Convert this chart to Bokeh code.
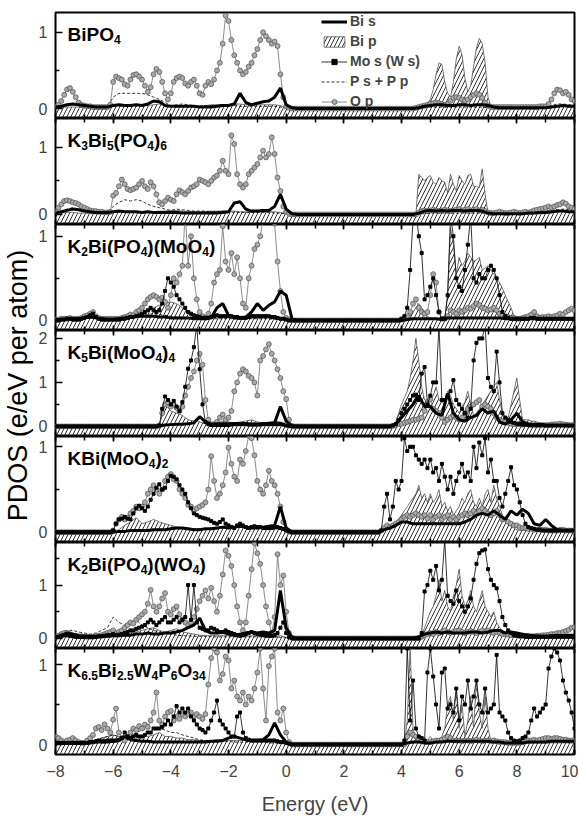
import numpy as np
from math import pi
from bokeh.plotting import figure
from bokeh.models import (Range1d, LinearAxis, FixedTicker, SingleIntervalTicker, Label,
                          Legend, LegendItem, BoxAnnotation, ColumnDataSource)
from bokeh.layouts import column, row
from bokeh.embed import file_html
from bokeh.resources import INLINE

FONT = "Liberation Sans"

# energy grids (eV)
E01 = np.round(np.arange(-8.0, 10.0001, 0.1), 1)   # 181 points
E02 = np.round(np.arange(-8.0, 10.0001, 0.2), 1)   # 91 points
GAP01 = [0, 0, 0, 0, 0, 0, 0, 0, 0, 0, 0, 0, 0, 0, 0, 0, 0, 0, 0, 0, 0, 0, 0, 0, 0, 0]

# ---------------- Panel 1 : BiPO4 ----------------
p1_op_vb = [0.03,0.05,0.10,0.18,0.25,0.27,0.22,0.15,0.08,0.05,
0.04,0.03,0.03,0.02,0.02,0.02,0.02,0.02,0.02,0.05,
0.35,0.42,0.40,0.38,0.32,0.30,0.38,0.44,0.45,0.42,
0.38,0.30,0.22,0.28,0.45,0.52,0.48,0.35,0.20,0.12,
0.20,0.35,0.40,0.42,0.40,0.33,0.30,0.35,0.38,0.30,
0.20,0.18,0.30,0.35,0.32,0.38,0.50,0.60,0.85,1.22,
1.15,0.90,0.70,0.60,0.50,0.45,0.48,0.55,0.60,0.70,
0.78,0.90,1.00,0.95,0.90,0.85,0.88,0.82,0.45,0.15,
0.03,0.01,0,0]
p1_op_cb = [0,0,0,0,0,0,0,0,0,0,
0,0,0,0,0,0.01,0.02,0.03,0.04,0.05,
0.06,0.07,0.08,0.07,0.06,0.05,0.06,0.10,0.14,0.15,
0.14,0.12,0.10,0.12,0.15,0.18,0.20,0.18,0.14,0.08,
0.04,0.02,0.02,0.02,0.02,0.02,0.02,0.02,0.02,0.02,
0.02,0.02,0.02,0.02,0.02,0.02,0.02,0.02,0.03,0.03,
0.03,0.06,0.12,0.20,0.25,0.24,0.20,0.22,0.18,0.12,
0.10]
p1_bis_vb = [0.02,0.03,0.05,0.06,0.05,
0.04,0.03,0.02,0.02,0.02,
0.04,0.05,0.04,0.04,0.05,
0.04,0.06,0.10,0.09,0.04,
0.03,0.03,0.03,0.03,0.03,
0.02,0.02,0.02,0.03,0.04,
0.04,0.06,0.20,0.08,0.05,
0.07,0.09,0.10,0.15,0.27,
0.05,0.01,0]
p1_bis_cb = [0,0,0,0,0,
0,0,0,0.01,0.03,
0.04,0.05,0.05,0.04,0.04,
0.05,0.05,0.04,0.05,0.05,
0.04,0.02,0.01,0.01,0.01,
0.01,0.01,0.01,0.01,0.01,
0.01,0.02,0.03,0.04,0.03,
0.03]
p1_bip_vb = [0.01,0.02,0.02,0.02,0.02,
0.01,0.01,0.01,0.01,0.01,
0.03,0.04,0.03,0.03,0.04,
0.05,0.04,0.05,0.06,0.04,
0.03,0.03,0.04,0.04,0.03,
0.03,0.04,0.05,0.05,0.05,
0.05,0.06,0.06,0.05,0.05,
0.05,0.05,0.05,0.05,0.04,
0.01,0,0]
p1_bip_cb = [0,0,0,0,0,0,0,0,0,0,
0,0,0,0,0,0,0.01,0.02,0.04,0.07,
0.12,0.25,0.45,0.60,0.58,0.35,0.20,0.15,0.35,0.65,
0.82,0.70,0.40,0.22,0.30,0.55,0.80,0.92,0.85,0.60,
0.15,0.03,0.02,0.01,0.01,0.01,0.01,0.01,0.01,0.01,
0.01,0.01,0.01,0.01,0.01,0.01,0.01,0.01,0.01,0.01,
0.01,0.01,0.02,0.03,0.04,0.04,0.03,0.03,0.03,0.03,
0.02]
p1_p_vb = [0.01,0.02,0.04,0.06,0.05,
0.03,0.02,0.01,0.01,0.01,
0.15,0.20,0.20,0.20,0.20,
0.20,0.18,0.15,0.12,0.08,
0.04,0.05,0.06,0.05,0.04,
0.03,0.04,0.04,0.04,0.05,
0.04,0.04,0.03,0.03,0.03,
0.03,0.03,0.03,0.03,0.02,
0.01,0,0]
p1_p_cb = [0,0,0,0,0,
0,0,0,0,0.01,
0.02,0.02,0.02,0.02,0.02,
0.02,0.02,0.02,0.02,0.02,
0.01,0.01,0.01,0.01,0.01,
0.01,0.01,0.01,0.01,0.01,
0.02,0.04,0.06,0.06,0.05,
0.05]

# ---------------- Panel 2 : K3Bi5(PO4)6 ----------------
p2_op_vb = [0.05,0.10,0.15,0.20,0.21,0.20,0.18,0.17,0.15,0.12,
0.10,0.08,0.06,0.05,0.05,0.04,0.04,0.03,0.03,0.04,
0.28,0.32,0.42,0.52,0.45,0.38,0.36,0.38,0.40,0.45,
0.50,0.42,0.38,0.48,0.42,0.30,0.18,0.15,0.20,0.25,
0.22,0.20,0.30,0.36,0.33,0.30,0.35,0.40,0.42,0.45,
0.52,0.50,0.48,0.45,0.50,0.55,0.58,0.65,0.80,0.65,
0.60,1.18,1.05,0.60,0.45,0.40,0.45,0.60,0.65,0.70,
0.75,0.85,0.95,0.85,0.90,1.15,0.90,0.55,0.35,0.12,
0.04,0.01,0,0]
p2_op_cb = [0,0,0,0,0,0,0,0,0,0,
0,0,0,0,0,0,0.03,0.05,0.06,0.05,
0.06,0.07,0.06,0.05,0.06,0.07,0.06,0.05,0.06,0.07,
0.08,0.06,0.07,0.08,0.06,0.07,0.08,0.06,0.07,0.05,
0.03,0.02,0.02,0.03,0.04,0.03,0.02,0.02,0.03,0.04,
0.03,0.02,0.03,0.04,0.03,0.04,0.06,0.07,0.08,0.09,
0.10,0.12,0.10,0.12,0.14,0.15,0.18,0.16,0.12,0.10,
0.08]
p2_bis_vb = [0.02,0.04,0.06,0.08,0.07,
0.05,0.04,0.03,0.03,0.03,
0.04,0.05,0.04,0.04,0.04,
0.03,0.04,0.03,0.03,0.03,
0.03,0.03,0.02,0.02,0.02,
0.02,0.02,0.02,0.02,0.03,
0.04,0.17,0.19,0.08,0.05,
0.05,0.06,0.06,0.12,0.30,
0.08,0.01,0]
p2_bis_cb = [0,0,0,0,0,
0,0,0,0.02,0.05,
0.06,0.05,0.06,0.05,0.06,
0.06,0.05,0.06,0.06,0.05,
0.02,0.01,0.01,0.01,0.01,
0.01,0.01,0.02,0.02,0.03,
0.03,0.04,0.05,0.05,0.04,
0.04]
p2_bip_vb = [0.01,0.02,0.03,0.03,0.02,
0.02,0.01,0.01,0.01,0.01,
0.03,0.04,0.04,0.03,0.04,
0.04,0.04,0.04,0.05,0.05,
0.06,0.06,0.05,0.04,0.04,
0.04,0.04,0.05,0.05,0.05,
0.05,0.05,0.04,0.04,0.04,
0.04,0.04,0.04,0.04,0.03,
0.01,0,0]
p2_bip_cb = [0,0,0,0,0,0,0,0,0,0,
0,0,0,0,0,0,0.60,0.55,0.50,0.55,
0.58,0.48,0.45,0.55,0.50,0.48,0.32,0.60,0.45,0.35,
0.58,0.50,0.45,0.58,0.60,0.42,0.42,0.40,0.68,0.30,
0.02,0.01,0.01,0.01,0.01,0.01,0.01,0.01,0.01,0.01,
0.01,0.01,0.01,0.01,0.01,0.01,0.01,0.01,0.01,0.01,
0.01,0.02,0.02,0.03,0.03,0.04,0.05,0.05,0.04,0.04,
0.03]
p2_p_vb = [0.02,0.05,0.08,0.10,0.08,
0.06,0.04,0.03,0.02,0.02,
0.12,0.18,0.22,0.20,0.22,
0.20,0.15,0.12,0.10,0.08,
0.06,0.08,0.07,0.06,0.05,
0.05,0.05,0.04,0.04,0.05,
0.04,0.03,0.03,0.03,0.03,
0.03,0.03,0.03,0.02,0.02,
0.01,0,0]
p2_p_cb = [0,0,0,0,0,
0,0,0,0.01,0.01,
0.02,0.02,0.02,0.02,0.02,
0.02,0.02,0.02,0.02,0.02,
0.01,0.01,0.01,0.01,0.01,
0.02,0.02,0.03,0.03,0.04,
0.05,0.06,0.07,0.08,0.07,
0.06]

# ---------------- Panel 3 : K2Bi(PO4)(MoO4) ----------------
p3_op_vb = [0.01,0.01,0.02,0.02,0.02,0.03,0.02,0.02,0.02,0.03,
0.05,0.06,0.08,0.10,0.05,0.03,0.02,0.02,0.02,0.02,
0.02,0.02,0.02,0.03,0.04,0.05,0.07,0.06,0.10,0.12,
0.15,0.20,0.25,0.28,0.30,0.28,0.25,0.27,0.22,0.15,
0.30,0.50,0.45,0.55,0.65,1.30,0.65,1.00,0.50,0.25,
0.10,0.05,0.03,0.08,0.20,0.45,0.55,0.60,1.12,0.70,
0.60,0.80,0.55,0.75,0.50,0.20,0.15,0.50,0.65,0.85,
0.90,1.00,1.20,1.25,1.20,1.20,1.15,0.70,0.35,0.10,
0.03,0.01,0,0]
p3_op_cb = [0,0,0,0,0,0,0,0,0,0,
0.01,0.02,0.05,0.10,0.20,0.25,0.15,0.10,0.08,0.10,
0.30,0.55,0.45,0.10,0.02,0.02,0.05,0.12,0.10,0.08,
0.12,0.10,0.12,0.15,0.14,0.17,0.20,0.18,0.15,0.14,
0.12,0.13,0.15,0.12,0.08,0.06,0.05,0.04,0.03,0.03,
0.02,0.02,0.03,0.04,0.05,0.07,0.10,0.05,0.03,0.04,
0.04,0.05,0.04,0.05,0.06,0.08,0.07,0.10,0.12,0.14,
0.12]
p3_mos_vb = [0,0,0.01,0.01,0.02,0.02,0.01,0.01,0.01,0.02,
0.03,0.04,0.06,0.08,0.04,0.02,0.01,0.01,0.01,0.01,
0.01,0.01,0.01,0.02,0.02,0.03,0.04,0.04,0.05,0.06,
0.08,0.10,0.12,0.15,0.12,0.10,0.12,0.20,0.35,0.50,
0.45,0.40,0.30,0.25,0.20,0.15,0.10,0.08,0.06,0.05,
0.04,0.03,0.03,0.03,0.04,0.05,0.06,0.05,0.05,0.05,
0.05,0.05,0.04,0.04,0.03,0.03,0.03,0.04,0.05,0.05,
0.05,0.05,0.05,0.05,0.05,0.04,0.04,0.03,0.02,0.02,
0.01,0,0,0]
p3_mos_cb = [0,0,0,0,0,0,0,0,0,0,
0.02,0.05,0.15,0.60,1.20,1.30,1.00,0.80,0.25,0.30,
0.40,0.50,0.30,0.10,0.02,0.02,0.30,1.25,1.00,0.50,
0.40,0.35,0.60,0.90,1.25,0.50,0.45,0.55,0.50,0.50,
0.60,0.65,0.60,0.50,0.30,0.10,0.05,0.03,0.02,0.02,
0.02,0.02,0.02,0.02,0.02,0.03,0.03,0.02,0.02,0.02,
0.02,0.02,0.02,0.02,0.02,0.02,0.02,0.02,0.02,0.02,
0.02]
p3_bis_vb = [0.01,0.01,0.02,0.02,0.02,
0.03,0.04,0.03,0.02,0.01,
0.01,0.02,0.03,0.04,0.05,
0.05,0.05,0.05,0.04,0.04,
0.03,0.03,0.03,0.03,0.02,
0.02,0.02,0.03,0.15,0.20,
0.06,0.03,0.03,0.04,0.10,
0.20,0.12,0.18,0.22,0.35,
0.30,0.02,0]
p3_bis_cb = [0,0,0,0,0,
0,0.01,0.02,0.02,0.02,
0.02,0.02,0.01,0.03,0.03,
0.03,0.03,0.03,0.03,0.03,
0.03,0.03,0.03,0.02,0.02,
0.02,0.02,0.02,0.02,0.02,
0.02,0.02,0.02,0.02,0.02,
0.02]
p3_bip_vb = [0.01,0.01,0.02,0.02,0.02,
0.03,0.04,0.03,0.02,0.01,
0.01,0.02,0.03,0.04,0.06,
0.08,0.12,0.15,0.18,0.20,
0.22,0.20,0.15,0.10,0.06,
0.04,0.03,0.03,0.04,0.04,
0.04,0.04,0.03,0.03,0.03,
0.03,0.03,0.03,0.03,0.02,
0.01,0,0]
p3_bip_cb = [0,0,0,0,0,0,0,0,0,0,
0,0,0.02,0.05,0.10,0.15,0.20,0.15,0.10,0.05,
0.03,0.02,0.02,0.02,0.02,0.02,0.30,1.10,0.90,0.55,
0.75,0.65,0.70,0.80,0.75,0.70,0.72,0.75,0.60,0.62,
0.65,0.60,0.55,0.50,0.45,0.38,0.30,0.22,0.15,0.05,
0.03,0.02,0.02,0.02,0.02,0.02,0.02,0.02,0.02,0.02,
0.02,0.02,0.02,0.02,0.02,0.02,0.02,0.02,0.02,0.02,
0.02]
p3_p_vb = [0.01,0.01,0.02,0.03,0.03,
0.04,0.05,0.03,0.02,0.01,
0.02,0.02,0.03,0.04,0.05,
0.06,0.07,0.08,0.07,0.06,
0.05,0.04,0.04,0.03,0.03,
0.02,0.02,0.02,0.02,0.02,
0.02,0.02,0.02,0.02,0.02,
0.02,0.02,0.02,0.01,0.01,
0,0,0]

# ---------------- Panel 4 : K5Bi(MoO4)4 ----------------
p4_op_vb = [0,0,0,0,0,0,0,0,0,0,
0,0,0,0,0,0,0,0,0,0,
0,0,0,0,0,0,0,0,0,0,
0,0,0,0,0,0,0.02,0.30,0.50,0.55,
0.45,0.50,0.42,0.35,0.45,0.70,0.90,1.10,1.25,1.50,
1.65,1.40,0.60,0.15,0.05,0.05,0.10,0.20,0.27,0.15,
0.20,0.35,0.80,1.00,1.20,1.30,1.25,1.15,1.10,1.00,
0.70,1.50,1.60,1.75,1.87,1.65,1.50,1.30,1.10,0.80,
0.62,0.15,0.01,0]
p4_op_cb = [0,0,0,0,0,0,0,0.01,0.03,0.05,
0.06,0.08,0.10,0.12,0.15,0.15,0.18,0.20,0.35,0.50,
0.62,0.40,0.35,0.30,0.20,0.10,0.15,0.20,0.25,0.20,
0.15,0.20,0.30,0.40,0.45,0.50,0.55,0.60,0.45,0.50,
0.45,0.40,0.30,0.20,0.15,0.12,0.10,0.08,0.06,0.05,
0.05,0.05,0.04,0.05,0.04,0.03,0.03,0.03,0.03,0.03,
0.03,0.03,0.04,0.05,0.05,0.06,0.05,0.04,0.03,0.03,
0.02]
p4_mos_vb = [0,0,0,0,0,0,0,0,0,0,
0,0,0,0,0,0,0,0,0,0,
0,0,0,0,0,0,0,0,0,0,
0,0,0,0,0,0,0.02,0.40,0.68,0.60,
0.50,0.58,0.45,0.35,0.55,0.90,1.31,1.50,1.80,2.30,
1.30,0.50,0.10,0.05,0.03,0.03,0.03,0.03,0.03,0.03,
0.03,0.04,0.05,0.05,0.05,0.05,0.05,0.04,0.04,0.04,
0.04,0.04,0.05,0.05,0.05,0.05,0.05,0.05,0.05,0.04,
0.02,0.01,0,0]
p4_mos_cb = [0,0,0,0,0,0,0,0.02,0.05,0.15,
0.30,0.40,0.50,0.60,0.70,0.72,0.60,1.20,1.35,0.50,
0.70,1.00,1.00,2.30,0.60,0.60,0.70,0.80,1.05,0.60,
0.50,0.40,0.30,0.20,0.40,1.50,1.90,2.00,2.00,2.30,
1.10,0.90,0.80,1.70,1.00,0.30,0.20,0.15,0.10,0.08,
0.06,0.05,0.04,0.04,0.03,0.03,0.03,0.03,0.03,0.03,
0.02,0.02,0.02,0.02,0.02,0.02,0.02,0.02,0.02,0.02,
0.02]
p4_bis_vb = [0,0,0,0,0,
0,0,0,0,0,
0,0,0,0,0,
0,0,0,0.01,0.03,
0.04,0.05,0.05,0.06,0.08,
0.22,0.10,0.05,0.06,0.06,
0.06,0.06,0.05,0.06,0.05,
0.05,0.05,0.06,0.08,0.45,
0.12,0.01,0]
p4_bis_cb = [0,0,0,0,0.05,
0.20,0.35,0.50,0.70,0.45,
0.45,0.30,0.25,0.75,0.30,
0.15,0.12,0.20,0.25,0.40,
0.30,0.35,0.10,0.05,0.15,
0.30,0.10,0.05,0.04,0.03,
0.02,0.02,0.02,0.02,0.02,
0.02]
p4_bip_vb = [0,0,0,0,0,
0,0,0,0,0,
0,0,0,0,0,
0,0,0,0.02,0.50,
0.35,0.30,0.25,0.15,0.12,
0.10,0.06,0.05,0.08,0.12,
0.10,0.08,0.10,0.12,0.15,
0.10,0.08,0.10,0.12,0.10,
0.03,0,0]
p4_bip_cb = [0,0,0,0,0,0,0,0.02,0.10,0.30,
0.50,0.65,0.80,1.10,1.50,2.00,1.50,0.90,0.60,0.60,
0.60,0.70,0.90,0.60,0.55,0.50,0.80,0.70,0.50,0.40,
0.30,0.45,0.55,0.80,0.50,0.25,0.30,0.40,0.50,0.60,
0.70,0.80,0.90,1.00,0.60,0.30,0.20,0.20,0.50,0.80,
1.10,0.60,0.15,0.15,0.15,0.12,0.12,0.10,0.08,0.06,
0.05,0.04,0.04,0.03,0.03,0.03,0.02,0.02,0.02,0.02,
0.02]

# ---------------- Panel 5 : KBi(MoO4)2 ----------------
p5_op_vb = [0,0,0,0,0,0,0,0,0,0,
0,0,0,0,0,0,0,0,0,0,
0.02,0.10,0.15,0.18,0.15,0.17,0.22,0.25,0.30,0.28,
0.30,0.35,0.45,0.50,0.55,0.50,0.45,0.50,0.60,0.65,
0.68,0.62,0.60,0.50,0.45,0.40,0.32,0.30,0.25,0.28,
0.30,0.32,0.35,0.50,0.89,0.60,0.40,0.45,0.55,0.70,
0.99,0.80,0.65,0.60,0.85,0.80,0.95,1.13,1.10,0.90,
0.60,0.50,0.45,0.55,0.72,0.60,0.55,0.45,0.30,0.12,
0.03,0.01,0,0]
p5_op_cb = [0,0,0,0.02,0.05,0.08,0.06,0.08,0.10,0.12,
0.15,0.18,0.20,0.18,0.20,0.22,0.20,0.18,0.20,0.16,
0.20,0.15,0.18,0.20,0.15,0.18,0.20,0.15,0.18,0.15,
0.18,0.20,0.22,0.20,0.22,0.25,0.22,0.25,0.28,0.25,
0.22,0.20,0.22,0.25,0.20,0.15,0.15,0.12,0.10,0.08,
0.08,0.06,0.05,0.05,0.04,0.04,0.03,0.03,0.03,0.03,
0.03,0.02,0.02,0.02,0.02,0.03,0.03,0.02,0.02,0.02,
0.02]
p5_mos_vb = [0,0,0,0,0,0,0,0,0,0,
0,0,0,0,0,0,0,0,0,0,
0.02,0.10,0.15,0.16,0.18,0.16,0.15,0.22,0.28,0.31,
0.28,0.25,0.30,0.38,0.45,0.52,0.56,0.50,0.52,0.60,
0.66,0.65,0.62,0.55,0.50,0.45,0.35,0.28,0.22,0.20,
0.18,0.17,0.16,0.15,0.13,0.11,0.10,0.12,0.15,0.10,
0.08,0.06,0.05,0.08,0.10,0.08,0.06,0.05,0.06,0.07,
0.06,0.06,0.05,0.05,0.05,0.05,0.06,0.06,0.05,0.04,
0.02,0.01,0,0]
p5_mos_cb = [0,0,0,0.02,0.30,0.45,0.15,0.30,0.60,0.50,
0.60,1.10,0.95,1.00,1.00,0.90,0.85,0.80,0.85,0.75,
0.85,0.70,0.75,0.60,0.80,0.65,0.50,0.65,0.45,0.60,
0.70,0.80,0.65,0.70,0.60,1.00,0.75,1.05,0.90,1.10,
0.70,0.85,0.60,0.60,0.40,0.30,0.45,0.60,0.76,0.55,
0.50,0.35,0.20,0.10,0.06,0.05,0.04,0.03,0.03,0.02,
0.02,0.02,0.02,0.02,0.02,0.02,0.02,0.02,0.02,0.02,
0.02]
p5_bis_vb = [0,0,0,0,0,
0,0,0,0,0,
0,0.01,0.01,0.02,0.02,
0.02,0.02,0.03,0.03,0.03,
0.04,0.05,0.05,0.04,0.03,
0.03,0.04,0.04,0.05,0.06,
0.05,0.06,0.07,0.06,0.05,
0.05,0.06,0.07,0.08,0.30,
0.05,0,0]
p5_bis_cb = [0,0,0.03,0.05,0.08,
0.12,0.12,0.10,0.10,0.10,
0.10,0.10,0.10,0.10,0.10,
0.10,0.12,0.15,0.20,0.22,
0.20,0.25,0.20,0.15,0.25,
0.20,0.27,0.22,0.10,0.08,
0.15,0.08,0.03,0.02,0.02,
0.02]
p5_bip_vb = [0,0,0,0,0,
0,0,0,0,0,
0,0.03,0.08,0.12,0.17,
0.10,0.12,0.15,0.12,0.10,
0.08,0.06,0.05,0.04,0.04,
0.04,0.04,0.05,0.05,0.05,
0.05,0.06,0.07,0.06,0.05,
0.05,0.04,0.04,0.04,0.03,
0.01,0,0]
p5_bip_cb = [0,0,0,0,0.02,0.05,0.04,0.08,0.10,0.15,
0.20,0.25,0.30,0.35,0.40,0.45,0.55,0.40,0.45,0.35,
0.45,0.35,0.40,0.50,0.30,0.35,0.25,0.30,0.20,0.25,
0.30,0.40,0.35,0.45,0.50,0.35,0.30,0.40,0.30,0.45,
0.50,0.35,0.55,0.40,0.30,0.20,0.15,0.10,0.08,0.05,
0.03,0.02,0.02,0.02,0.02,0.02,0.02,0.02,0.02,0.02,
0.02,0.02,0.02,0.02,0.02,0.02,0.02,0.02,0.02,0.02,
0.02]

# ---------------- Panel 6 : K2Bi(PO4)(WO4) ----------------
p6_op_vb = [0.02,0.05,0.08,0.10,0.10,0.08,0.06,0.05,0.04,0.04,
0.03,0.03,0.03,0.03,0.04,0.05,0.06,0.08,0.10,0.12,
0.15,0.10,0.12,0.15,0.20,0.25,0.30,0.28,0.35,0.40,
0.45,0.50,0.65,0.91,0.60,0.50,0.60,0.75,0.85,0.50,
0.45,0.55,0.60,0.45,0.35,0.30,0.25,0.30,0.40,0.55,
0.70,0.80,0.90,0.75,0.95,0.70,0.50,0.80,1.20,1.65,
1.55,1.36,1.00,0.60,0.30,0.15,0.30,0.80,1.30,1.79,
1.60,1.40,1.00,0.60,0.30,0.10,0.40,1.58,1.00,1.18,
0.50,0.10,0.02,0]
p6_op_cb = [0,0,0,0,0,0,0,0,0,0,
0,0,0,0,0,0,0,0.03,0.06,0.08,
0.10,0.08,0.12,0.10,0.12,0.15,0.12,0.10,0.12,0.14,
0.15,0.12,0.10,0.12,0.14,0.12,0.10,0.12,0.15,0.13,
0.15,0.12,0.10,0.12,0.10,0.08,0.08,0.07,0.06,0.06,
0.06,0.05,0.05,0.04,0.05,0.04,0.04,0.05,0.05,0.06,
0.06,0.07,0.08,0.08,0.10,0.10,0.12,0.14,0.16,0.20,
0.21]
p6_mos_vb = [0.02,0.03,0.05,0.06,0.06,0.05,0.04,0.03,0.03,0.03,
0.03,0.03,0.03,0.03,0.03,0.04,0.04,0.05,0.06,0.06,
0.08,0.06,0.07,0.08,0.10,0.12,0.15,0.15,0.18,0.20,
0.22,0.25,0.30,0.35,0.30,0.25,0.30,0.35,0.40,0.30,
0.30,0.35,0.40,0.30,0.35,0.40,1.00,0.35,1.00,0.30,
0.20,0.18,0.15,0.15,0.20,0.18,0.15,0.12,0.12,0.15,
0.12,0.10,0.08,0.06,0.05,0.06,0.08,0.10,0.12,0.10,
0.08,0.07,0.06,0.05,0.05,0.05,0.06,0.10,0.20,0.30,
0.10,0.02,0,0]
p6_mos_cb = [0,0,0,0,0,0,0,0,0,0,
0,0,0,0,0,0,0,0.10,0.88,1.00,
1.27,1.10,1.36,0.90,1.10,1.85,0.80,0.70,0.65,0.90,
0.70,0.60,0.50,0.60,0.75,1.10,1.40,1.60,1.65,1.67,
1.30,1.10,1.00,0.94,0.70,0.40,0.25,0.15,0.10,0.06,
0.05,0.04,0.04,0.03,0.03,0.03,0.03,0.03,0.03,0.03,
0.03,0.03,0.03,0.03,0.03,0.03,0.03,0.03,0.03,0.03,
0.03]
p6_bis_vb = [0.02,0.05,0.10,0.08,0.05,
0.04,0.03,0.03,0.03,0.04,
0.05,0.05,0.06,0.06,0.08,
0.08,0.10,0.08,0.08,0.10,
0.10,0.12,0.15,0.20,0.25,
0.38,0.15,0.10,0.10,0.12,
0.08,0.06,0.08,0.10,0.12,
0.10,0.12,0.10,0.15,0.90,
0.20,0.01,0]
p6_bis_cb = [0,0,0,0,0,
0,0,0,0.03,0.08,
0.10,0.12,0.10,0.12,0.10,
0.10,0.10,0.12,0.12,0.10,
0.12,0.15,0.15,0.10,0.12,
0.10,0.08,0.06,0.05,0.04,
0.04,0.05,0.06,0.05,0.06,
0.06]
p6_bip_vb = [0.01,0.02,0.03,0.03,0.02,
0.02,0.02,0.02,0.03,0.04,
0.05,0.06,0.08,0.10,0.12,
0.15,0.18,0.20,0.15,0.12,
0.15,0.18,0.12,0.10,0.08,
0.06,0.05,0.05,0.06,0.06,
0.05,0.05,0.04,0.04,0.05,
0.05,0.05,0.04,0.04,0.05,
0.02,0,0]
p6_bip_cb = [0,0,0,0,0,0,0,0,0,0,
0,0,0,0,0,0,0,0.05,0.20,0.35,
0.50,0.60,0.80,1.10,0.70,0.90,0.60,0.50,0.80,1.00,
1.30,0.80,0.60,0.70,0.90,0.60,0.50,0.70,0.90,0.60,
0.50,0.40,0.50,0.30,0.20,0.15,0.10,0.08,0.06,0.05,
0.04,0.03,0.03,0.03,0.03,0.03,0.03,0.03,0.03,0.03,
0.03,0.03,0.03,0.03,0.03,0.03,0.03,0.03,0.03,0.03,
0.03]
p6_p_vb = [0.05,0.10,0.15,0.15,0.12,
0.10,0.08,0.10,0.15,0.20,
0.40,0.30,0.25,0.30,0.35,
0.25,0.20,0.15,0.12,0.10,
0.08,0.06,0.05,0.05,0.04,
0.04,0.04,0.03,0.03,0.03,
0.03,0.03,0.03,0.03,0.03,
0.03,0.03,0.02,0.02,0.02,
0.01,0,0]

# ---------------- Panel 7 : K6.5Bi2.5W4P6O34 ----------------
p7_op_vb = [0.10,0.08,0.05,0.03,0.05,0.06,0.08,0.05,0.03,0.02,
0.02,0.05,0.08,0.12,0.20,0.22,0.18,0.25,0.20,0.15,
0.31,0.45,0.15,0.08,0.05,0.10,0.15,0.20,0.18,0.23,
0.20,0.25,0.22,0.30,0.40,0.65,0.30,0.25,0.35,0.40,
0.42,0.30,0.35,0.32,0.38,0.35,0.38,0.40,0.35,0.38,
0.35,0.32,0.38,0.75,1.08,1.20,1.15,0.80,0.88,1.10,
1.05,0.70,0.80,0.60,0.55,0.65,0.50,0.60,0.55,0.70,
0.90,1.20,0.70,0.30,0.98,1.10,1.20,0.40,0.30,0.45,
0.15,0.03,0,0]
p7_op_cb = [0,0,0,0,0,0,0,0,0,0,
0,0,0.10,0.15,0.12,0.10,0.06,0.05,0.04,0.03,
0.03,0.04,0.05,0.05,0.06,0.08,0.10,0.08,0.05,0.05,
0.05,0.04,0.05,0.05,0.04,0.05,0.06,0.05,0.04,0.05,
0.05,0.04,0.05,0.04,0.03,0.03,0.03,0.02,0.02,0.02,
0.02,0.02,0.03,0.04,0.05,0.05,0.06,0.05,0.06,0.07,
0.08,0.08,0.07,0.08,0.08,0.07,0.06,0.06,0.05,0.05,
0.05]
p7_mos_vb = [0.02,0.02,0.02,0.02,0.02,0.02,0.02,0.02,0.02,0.02,
0.02,0.02,0.03,0.03,0.04,0.05,0.04,0.04,0.05,0.05,
0.05,0.05,0.06,0.08,0.15,0.10,0.08,0.10,0.12,0.10,
0.10,0.12,0.15,0.15,0.20,0.20,0.20,0.22,0.25,0.30,
0.25,0.35,0.48,0.40,0.45,0.40,0.45,0.35,0.30,0.25,
0.20,0.18,0.15,0.20,0.30,0.40,0.55,0.30,0.25,0.20,
0.15,0.10,0.10,0.35,0.40,0.15,0.08,0.06,0.05,0.05,
0.05,0.05,0.05,0.05,0.05,0.05,0.05,0.04,0.03,0.03,
0.02,0.01,0,0]
p7_mos_cb = [0,0,0,0,0,0,0,0,0,0,
0,0.05,1.20,0.30,0.80,0.20,0.10,0.08,0.05,0.90,
1.20,0.85,0.50,0.20,0.90,0.95,0.45,0.50,0.40,0.70,
0.30,0.60,0.50,0.80,0.45,0.60,0.80,0.50,0.40,0.70,
0.40,0.45,0.50,1.12,0.40,0.35,0.30,0.15,0.08,0.05,
0.04,0.05,0.08,0.10,0.15,0.30,0.45,0.35,0.40,0.45,
0.50,0.95,1.10,1.20,1.15,1.05,0.80,0.65,0.55,0.40,
0.20]
p7_bis_vb = [0.02,0.02,0.02,0.02,0.02,
0.02,0.02,0.03,0.03,0.03,
0.04,0.05,0.10,0.06,0.05,
0.04,0.04,0.03,0.03,0.03,
0.03,0.03,0.03,0.03,0.03,
0.03,0.03,0.04,0.04,0.05,
0.08,0.10,0.08,0.06,0.05,
0.05,0.06,0.12,0.27,0.12,
0.03,0,0]
p7_bis_cb = [0,0,0,0,0,
0,0.02,0.03,0.03,0.02,
0.02,0.03,0.03,0.04,0.04,
0.04,0.04,0.04,0.04,0.04,
0.04,0.03,0.03,0.02,0.02,
0.02,0.02,0.03,0.03,0.03,
0.03,0.04,0.04,0.04,0.04,
0.04]
p7_bip_vb = [0.05,0.03,0.02,0.04,0.03,
0.02,0.03,0.05,0.08,0.10,
0.12,0.10,0.05,0.08,0.10,
0.12,0.10,0.12,0.15,0.10,
0.10,0.08,0.08,0.06,0.06,
0.05,0.05,0.05,0.06,0.06,
0.05,0.05,0.05,0.05,0.04,
0.04,0.04,0.04,0.04,0.04,
0.01,0,0]
p7_bip_cb = [0,0,0,0,0,0,0,0,0,0,
0,0,0.30,1.20,0.20,0.05,0.03,0.03,0.03,0.05,
0.10,0.05,0.03,0.05,0.10,0.20,0.50,0.60,0.30,0.70,
0.20,0.50,0.10,0.30,0.60,0.20,0.80,0.40,0.20,0.60,
0.20,0.05,0.03,0.03,0.03,0.03,0.02,0.02,0.02,0.02,
0.02,0.02,0.02,0.02,0.02,0.02,0.02,0.02,0.02,0.02,
0.02,0.02,0.02,0.02,0.02,0.02,0.02,0.02,0.02,0.02,
0.02]
p7_p_vb = [0.03,0.03,0.03,0.04,0.04,
0.04,0.05,0.06,0.08,0.10,
0.12,0.10,0.08,0.10,0.15,
0.18,0.20,0.20,0.20,0.18,
0.15,0.15,0.12,0.10,0.08,
0.06,0.05,0.05,0.04,0.04,
0.04,0.03,0.03,0.03,0.03,
0.03,0.03,0.02,0.02,0.02,
0.01,0,0]

# panel titles: (text, is_subscript)
T1 = [("BiPO", 0), ("4", 1)]
T2 = [("K", 0), ("3", 1), ("Bi", 0), ("5", 1), ("(PO", 0), ("4", 1), (")", 0), ("6", 1)]
T3 = [("K", 0), ("2", 1), ("Bi(PO", 0), ("4", 1), (")(MoO", 0), ("4", 1), (")", 0)]
T4 = [("K", 0), ("5", 1), ("Bi(MoO", 0), ("4", 1), (")", 0), ("4", 1)]
T5 = [("KBi(MoO", 0), ("4", 1), (")", 0), ("2", 1)]
T6 = [("K", 0), ("2", 1), ("Bi(PO", 0), ("4", 1), (")(WO", 0), ("4", 1), (")", 0)]
T7 = [("K", 0), ("6.5", 1), ("Bi", 0), ("2.5", 1), ("W", 0), ("4", 1), ("P", 0), ("6", 1), ("O", 0), ("34", 1)]

YR = [(-0.13, 1.26), (-0.15, 1.43), (-0.12, 1.14), (-0.23, 2.18), (-0.12, 1.12), (-0.19, 1.80), (-0.125, 1.20)]
YTICKS = [[0, 1], [0, 1], [0, 1], [0, 1, 2], [0, 1], [0, 1], [0, 1]]
YMINOR = [[0.5], [0.5], [0.5], [0.5, 1.5], [0.5], [0.5, 1.5], [0.5]]

PANELS = [
    dict(title=T1, op=(p1_op_vb, p1_op_cb), mos=None, bis=(p1_bis_vb, p1_bis_cb), bip=(p1_bip_vb, p1_bip_cb), p=(p1_p_vb, p1_p_cb)),
    dict(title=T2, op=(p2_op_vb, p2_op_cb), mos=None, bis=(p2_bis_vb, p2_bis_cb), bip=(p2_bip_vb, p2_bip_cb), p=(p2_p_vb, p2_p_cb)),
    dict(title=T3, op=(p3_op_vb, p3_op_cb), mos=(p3_mos_vb, p3_mos_cb), bis=(p3_bis_vb, p3_bis_cb), bip=(p3_bip_vb, p3_bip_cb), p=(p3_p_vb, None)),
    dict(title=T4, op=(p4_op_vb, p4_op_cb), mos=(p4_mos_vb, p4_mos_cb), bis=(p4_bis_vb, p4_bis_cb), bip=(p4_bip_vb, p4_bip_cb), p=None),
    dict(title=T5, op=(p5_op_vb, p5_op_cb), mos=(p5_mos_vb, p5_mos_cb), bis=(p5_bis_vb, p5_bis_cb), bip=(p5_bip_vb, p5_bip_cb), p=None),
    dict(title=T6, op=(p6_op_vb, p6_op_cb), mos=(p6_mos_vb, p6_mos_cb), bis=(p6_bis_vb, p6_bis_cb), bip=(p6_bip_vb, p6_bip_cb), p=(p6_p_vb, None)),
    dict(title=T7, op=(p7_op_vb, p7_op_cb), mos=(p7_mos_vb, p7_mos_cb), bis=(p7_bis_vb, p7_bis_cb), bip=(p7_bip_vb, p7_bip_cb), p=(p7_p_vb, None)),
]

X_VB01, X_GAP01, X_CB01 = E01[:84], E01[84:110], E01[110:]
X_VB02, X_CB02 = E02[:43], E02[55:]


def chk(arr, n, what):
    if len(arr) != n:
        raise ValueError(f"{what}: expected {n}, got {len(arr)}")


def fine_series(pair, what):
    vb, cb = pair
    chk(vb, 84, what + " vb"); chk(cb, 71, what + " cb")
    return list(E01), list(vb) + GAP01 + list(cb)


def coarse_series(pair, what):
    vb, cb = pair
    chk(vb, 43, what + " vb")
    if cb is None:
        return list(X_VB02), list(vb)
    chk(cb, 36, what + " cb")
    return list(X_VB02) + list(X_CB02), list(vb) + list(cb)


def bip_series(pair, what):
    vb, cb = pair
    chk(vb, 43, what + " vb"); chk(cb, 71, what + " cb")
    return list(X_VB02) + list(X_CB01), list(vb) + list(cb)


# Arial/Liberation Sans Bold advance widths (1/1000 em)
BW = {'K': 722, 'B': 722, 'i': 278, 'P': 667, 'O': 778, 'M': 833, 'o': 611, 'W': 944,
      '(': 333, ')': 333, '.': 278}


def twidth(s, size):
    return sum(BW.get(c, 556) for c in s) * size / 1000.0


FW, FH = 519, 106
TITLE_SIZE, SUB_SIZE = 19, 12
xr = Range1d(-8, 10)
HATCH = dict(hatch_pattern="/", hatch_color="black", hatch_weight=0.8, hatch_scale=8)

figs = []
legend_refs = {}
for i, cfg in enumerate(PANELS):
    first, last = i == 0, i == len(PANELS) - 1
    p = figure(frame_width=FW, frame_height=FH, x_range=xr, y_range=Range1d(*YR[i]),
               x_axis_location=None, y_axis_location=None, toolbar_location=None,
               output_backend="svg", min_border_left=21, min_border_right=4,
               min_border_top=12 if first else 0, min_border_bottom=0,
               background_fill_color="white", border_fill_color="white")
    p.grid.visible = False
    p.outline_line_color = "black"
    p.outline_line_width = 2

    ya = LinearAxis(ticker=FixedTicker(ticks=YTICKS[i], minor_ticks=YMINOR[i]),
                    major_label_text_font=FONT, major_label_text_font_size="16px",
                    major_label_standoff=8, major_tick_in=7, major_tick_out=0,
                    minor_tick_in=4, minor_tick_out=0, major_tick_line_width=1.5,
                    minor_tick_line_width=1.5, axis_line_color=None)
    p.add_layout(ya, "left")

    xt = SingleIntervalTicker(interval=2, num_minor_ticks=2)
    common = dict(ticker=xt, major_tick_in=5, major_tick_out=0, minor_tick_in=4, minor_tick_out=0,
                  major_tick_line_width=1.5, minor_tick_line_width=1.5, axis_line_color=None)
    hidden = dict(major_label_text_font_size="0px", major_label_text_color=None,
                  major_label_standoff=0)
    if last:
        xa = LinearAxis(axis_label="Energy (eV)", axis_label_text_font=FONT,
                        axis_label_text_font_size="20px", axis_label_text_font_style="normal",
                        axis_label_standoff=13, major_label_text_font=FONT,
                        major_label_text_font_size="16px", major_label_standoff=10, **common)
    else:
        xa = LinearAxis(**hidden, **common)
    p.add_layout(xa, "below")
    if not first:
        p.add_layout(LinearAxis(**hidden, **common), "above")

    # hatched strip below zero (Bi p baseline)
    p.add_layout(BoxAnnotation(top=0, fill_alpha=0, line_color=None, level="underlay", **HATCH))

    # Bi p
    bx, by = bip_series(cfg["bip"], f"p{i+1} bip")
    p.varea(x=bx, y1=0, y2=by, fill_alpha=0, **HATCH)
    p.line(bx, by, line_color="#555555", line_width=0.8)

    # P s + P p
    r_p = None
    if cfg["p"] is not None:
        px, py = coarse_series(cfg["p"], f"p{i+1} p")
        r_p = p.line(px, py, line_color="black", line_width=0.8, line_dash="3 2")

    # O p
    ox, oy = fine_series(cfg["op"], f"p{i+1} op")
    r_opl = p.line(ox, oy, line_color="#707070", line_width=0.8)
    r_ops = p.scatter(ox, oy, marker="circle", size=5, fill_color="#a9a9a9",
                      line_color="#404040", line_width=0.6)

    # Mo s (W s)
    if cfg["mos"] is not None:
        mx, my = fine_series(cfg["mos"], f"p{i+1} mos")
        p.line(mx, my, line_color="black", line_width=0.8)
        p.scatter(mx, my, marker="square", size=3, fill_color="black", line_color="black")

    # Bi s
    sx, sy = coarse_series(cfg["bis"], f"p{i+1} bis")
    r_bis = p.line(sx, sy, line_color="black", line_width=3)

    # title with subscripts
    xpos = 12
    for txt, sub in cfg["title"]:
        size = SUB_SIZE if sub else TITLE_SIZE
        ypos = FH - (27 if sub else 22)
        p.add_layout(Label(x=xpos, y=ypos, x_units="screen", y_units="screen", text=txt,
                           text_font=FONT, text_font_size=f"{size}px", text_font_style="bold",
                           text_baseline="alphabetic", text_color="black"))
        xpos += twidth(txt, size)

    if first:
        legend_refs = dict(p=p, bis=r_bis, pp=r_p, opl=r_opl, ops=r_ops)
    figs.append(p)

# legend in the first panel (proxy glyphs hold a single NaN so they never show in the plot)
p1 = legend_refs["p"]
nan = float("nan")
src_proxy = ColumnDataSource(dict(x=[nan], y=[nan], l=[nan], r=[nan], t=[nan], b=[nan]))
proxy_bip = p1.quad(left="l", right="r", top="t", bottom="b", source=src_proxy, fill_alpha=0,
                    line_color="#555555", line_width=0.8, **HATCH)
proxy_mol = p1.line("x", "y", source=src_proxy, line_color="black", line_width=0.8)
proxy_mos = p1.scatter("x", "y", source=src_proxy, marker="square", size=4,
                       fill_color="black", line_color="black")
leg = Legend(items=[
    LegendItem(label="Bi s", renderers=[legend_refs["bis"]]),
    LegendItem(label="Bi p", renderers=[proxy_bip]),
    LegendItem(label="Mo s (W s)", renderers=[proxy_mol, proxy_mos]),
    LegendItem(label="P s + P p", renderers=[legend_refs["pp"]]),
    LegendItem(label="O p", renderers=[legend_refs["opl"], legend_refs["ops"]]),
], location=(266, 9), orientation="vertical", label_text_font=FONT,
    label_text_font_size="14px", label_text_font_style="bold", glyph_width=26,
    glyph_height=13, label_height=15, spacing=4, padding=0, margin=0, label_standoff=3,
    border_line_color=None, background_fill_alpha=0)
p1.add_layout(leg)

# shared y-axis title
YL_H = 800
ylab = figure(width=34, height=YL_H, x_range=Range1d(0, 1), y_range=Range1d(0, 1),
              x_axis_location=None, y_axis_location=None, toolbar_location=None,
              output_backend="svg", min_border=0, outline_line_color=None)
ylab.grid.visible = False
ylab.add_layout(Label(x=17, y=YL_H - 385, x_units="screen", y_units="screen",
                      text="PDOS (e/eV per atom)", angle=pi / 2, text_align="center",
                      text_baseline="middle", text_font=FONT, text_font_size="27px",
                      text_color="black"))

layout = row(ylab, column(*figs, spacing=0), spacing=0)

with open("out.html", "w") as f:
    f.write(file_html(layout, INLINE))
